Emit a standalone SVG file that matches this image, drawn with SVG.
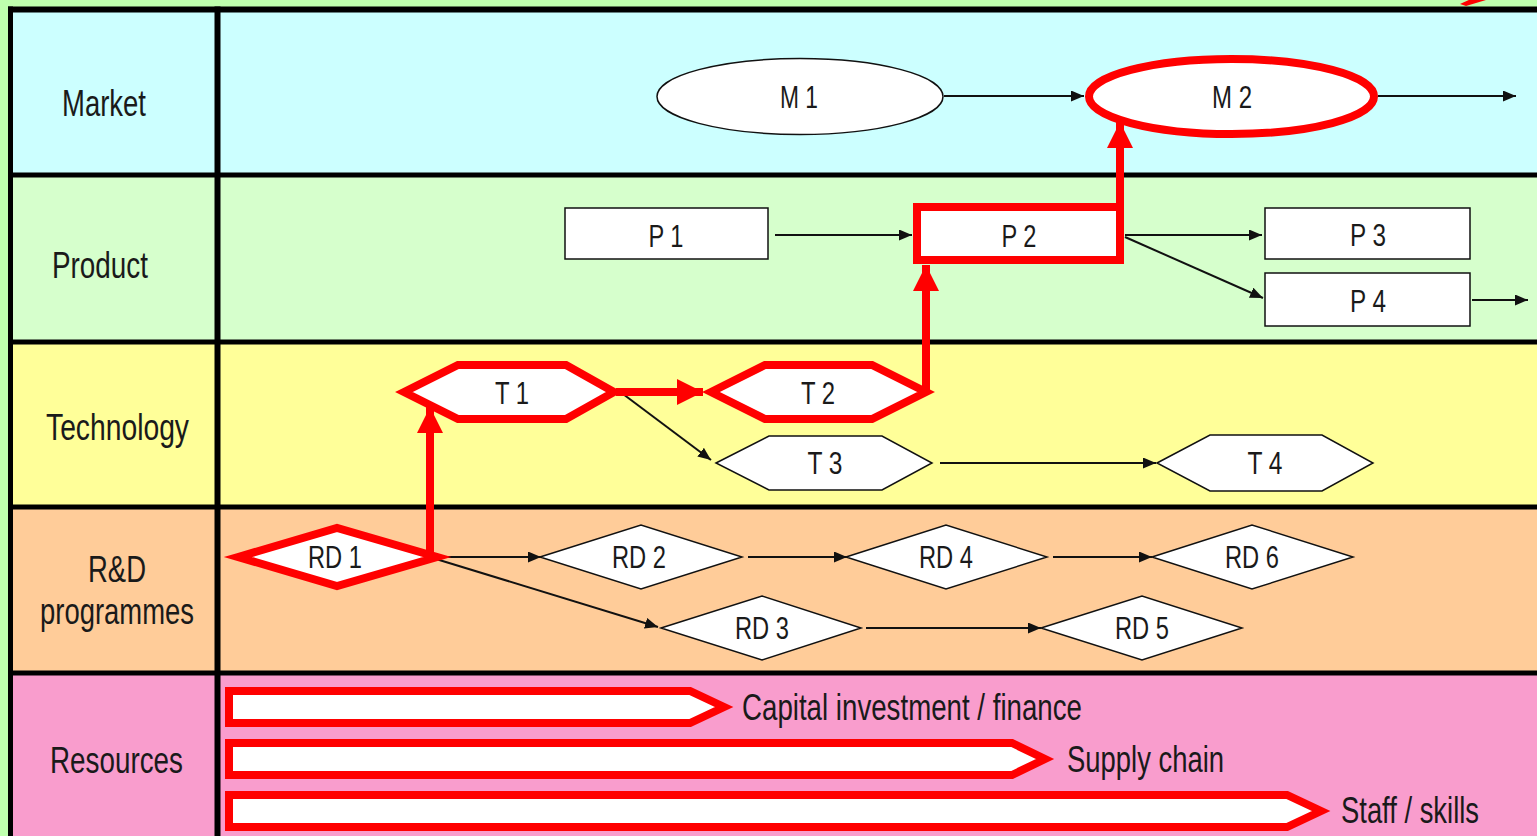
<svg xmlns="http://www.w3.org/2000/svg" width="1537" height="836" viewBox="0 0 1537 836">
<style>
.lbl{font-family:'Liberation Sans Narrow','Liberation Sans',Arial,sans-serif;fill:#1a1a1a;text-anchor:middle}
.row{font-size:36px}
.nd{font-size:32px}
.res{font-size:36px;text-anchor:start}
.node{fill:#fff;stroke:#111;stroke-width:1.5}
.hot{fill:#fff;stroke:#f00;stroke-width:8;stroke-linejoin:miter;stroke-miterlimit:10}
.grid{stroke:#000;fill:none}
.c{stroke:#111;stroke-width:2;fill:none;marker-end:url(#ah)}
.cr{stroke:#f00;stroke-width:8;fill:none;marker-end:url(#ahr)}
</style>
<defs>
<marker id="ah" markerUnits="userSpaceOnUse" markerWidth="13" markerHeight="11" refX="13" refY="5.5" orient="auto"><path d="M0,0 L13,5.5 L0,11 z" fill="#111"/></marker>
<marker id="ahr" markerUnits="userSpaceOnUse" markerWidth="26" markerHeight="26" refX="26" refY="13" orient="auto"><path d="M0,0 L26,13 L0,26 z" fill="#f00"/></marker>
</defs>
<g id="background">
<rect x="0" y="0" width="1537" height="836" fill="#bfffae"/>
<rect x="10" y="9" width="1527" height="166" fill="#ccffff"/>
<rect x="10" y="175" width="1527" height="167" fill="#d6ffcc"/>
<rect x="10" y="342" width="1527" height="165" fill="#ffff99"/>
<rect x="10" y="507" width="1527" height="166" fill="#ffcc99"/>
<rect x="10" y="673" width="1527" height="163" fill="#f99dcd"/>
<path d="M1460,4 L1482,-6 L1486,0 L1466,6 z" fill="#f00"/>
</g>
<g id="grid" class="grid">
<line x1="8" y1="9.5" x2="1537" y2="9.5" stroke-width="6"/>
<line x1="8" y1="175" x2="1537" y2="175" stroke-width="5"/>
<line x1="8" y1="342" x2="1537" y2="342" stroke-width="5"/>
<line x1="8" y1="507" x2="1537" y2="507" stroke-width="5"/>
<line x1="8" y1="673" x2="1537" y2="673" stroke-width="5"/>
<line x1="10.5" y1="6.5" x2="10.5" y2="836" stroke-width="5"/>
<line x1="217.5" y1="6.5" x2="217.5" y2="836" stroke-width="6"/>
</g>
<g id="row-labels">
<text class="lbl row" x="104" y="116" textLength="84" lengthAdjust="spacingAndGlyphs">Market</text>
<text class="lbl row" x="100" y="278" textLength="96" lengthAdjust="spacingAndGlyphs">Product</text>
<text class="lbl row" x="117.5" y="440" textLength="143" lengthAdjust="spacingAndGlyphs">Technology</text>
<text class="lbl row" x="117" y="582" textLength="58" lengthAdjust="spacingAndGlyphs">R&amp;D</text>
<text class="lbl row" x="117" y="624" textLength="154" lengthAdjust="spacingAndGlyphs">programmes</text>
<text class="lbl row" x="116.5" y="773" textLength="133" lengthAdjust="spacingAndGlyphs">Resources</text>
</g>
<g id="connectors">
<line class="c" x1="944" y1="96" x2="1084" y2="96"/>
<line class="c" x1="1378" y1="96" x2="1516" y2="96"/>
<line class="c" x1="775" y1="235" x2="912" y2="235"/>
<line class="c" x1="1125" y1="235" x2="1262" y2="235"/>
<line class="c" x1="1125" y1="237" x2="1263" y2="298"/>
<line class="c" x1="1472" y1="300" x2="1528" y2="300"/>
<line class="c" x1="623" y1="394" x2="711" y2="460"/>
<line class="c" x1="940" y1="463" x2="1156" y2="463"/>
<line class="c" x1="436" y1="557" x2="541" y2="557"/>
<line class="c" x1="436" y1="559" x2="658" y2="627"/>
<line class="c" x1="748" y1="557" x2="847" y2="557"/>
<line class="c" x1="1053" y1="557" x2="1152" y2="557"/>
<line class="c" x1="866" y1="628" x2="1041" y2="628"/>
<path class="cr" d="M430,557 V407"/>
<path class="cr" d="M616,392 H703"/>
<path class="cr" d="M926,392 V265"/>
<path class="cr" d="M1120,207 V122"/>
</g>
<g id="M1"><ellipse class="node" cx="800" cy="96.5" rx="143" ry="38"/><text class="lbl nd" x="799" y="108" textLength="38" lengthAdjust="spacingAndGlyphs">M 1</text></g>
<g id="M2"><ellipse class="hot" cx="1231.5" cy="96.5" rx="142.5" ry="37.5"/><text class="lbl nd" x="1232" y="108" textLength="40" lengthAdjust="spacingAndGlyphs">M 2</text></g>
<g id="P1"><rect class="node" x="565" y="208" width="203" height="51"/><text class="lbl nd" x="666" y="247" textLength="35" lengthAdjust="spacingAndGlyphs">P 1</text></g>
<g id="P2"><rect class="hot" x="917" y="207" width="203" height="53" stroke-width="10"/><text class="lbl nd" x="1019" y="247" textLength="35" lengthAdjust="spacingAndGlyphs">P 2</text></g>
<g id="P3"><rect class="node" x="1265" y="208" width="205" height="51"/><text class="lbl nd" x="1368" y="246" textLength="36" lengthAdjust="spacingAndGlyphs">P 3</text></g>
<g id="P4"><rect class="node" x="1265" y="273" width="205" height="53"/><text class="lbl nd" x="1368" y="312" textLength="36" lengthAdjust="spacingAndGlyphs">P 4</text></g>
<g id="T1"><polygon class="hot" points="404,392 458,365 566,365 614,392 566,419 458,419"/><text class="lbl nd" x="512" y="404" textLength="34" lengthAdjust="spacingAndGlyphs">T 1</text></g>
<g id="T2"><polygon class="hot" points="711,392 765,365 872,365 926,392 872,419 765,419"/><text class="lbl nd" x="818" y="404" textLength="34" lengthAdjust="spacingAndGlyphs">T 2</text></g>
<g id="T3"><polygon class="node" points="716,463 769,436 882,436 932,463 882,490 769,490"/><text class="lbl nd" x="825" y="474" textLength="35" lengthAdjust="spacingAndGlyphs">T 3</text></g>
<g id="T4"><polygon class="node" points="1157,463 1210,435 1322,435 1373,463 1322,491 1210,491"/><text class="lbl nd" x="1265" y="474" textLength="35" lengthAdjust="spacingAndGlyphs">T 4</text></g>
<g id="RD1"><polygon class="hot" points="238,557 337,528 437,557 337,586"/><text class="lbl nd" x="335" y="568" textLength="54" lengthAdjust="spacingAndGlyphs">RD 1</text></g>
<g id="RD2"><polygon class="node" points="540,557 641,525 742,557 641,589"/><text class="lbl nd" x="639" y="568" textLength="54" lengthAdjust="spacingAndGlyphs">RD 2</text></g>
<g id="RD3"><polygon class="node" points="661,628 762,596 861,628 762,660"/><text class="lbl nd" x="762" y="639" textLength="54" lengthAdjust="spacingAndGlyphs">RD 3</text></g>
<g id="RD4"><polygon class="node" points="846,557 946,525 1047,557 946,589"/><text class="lbl nd" x="946" y="568" textLength="54" lengthAdjust="spacingAndGlyphs">RD 4</text></g>
<g id="RD5"><polygon class="node" points="1041,628 1142,596 1242,628 1142,660"/><text class="lbl nd" x="1142" y="639" textLength="54" lengthAdjust="spacingAndGlyphs">RD 5</text></g>
<g id="RD6"><polygon class="node" points="1152,557 1252,525 1353,557 1252,589"/><text class="lbl nd" x="1252" y="568" textLength="54" lengthAdjust="spacingAndGlyphs">RD 6</text></g>
<g id="R1"><polygon class="hot" points="229,691 690,691 724,707 690,723 229,723"/><text class="lbl res" x="742" y="720" textLength="340" lengthAdjust="spacingAndGlyphs">Capital investment / finance</text></g>
<g id="R2"><polygon class="hot" points="229,743 1012,743 1045,759 1012,775 229,775"/><text class="lbl res" x="1067" y="772" textLength="157" lengthAdjust="spacingAndGlyphs">Supply chain</text></g>
<g id="R3"><polygon class="hot" points="229,795 1287,795 1321,811 1287,827 229,827"/><text class="lbl res" x="1341" y="823" textLength="138" lengthAdjust="spacingAndGlyphs">Staff / skills</text></g>
</svg>
